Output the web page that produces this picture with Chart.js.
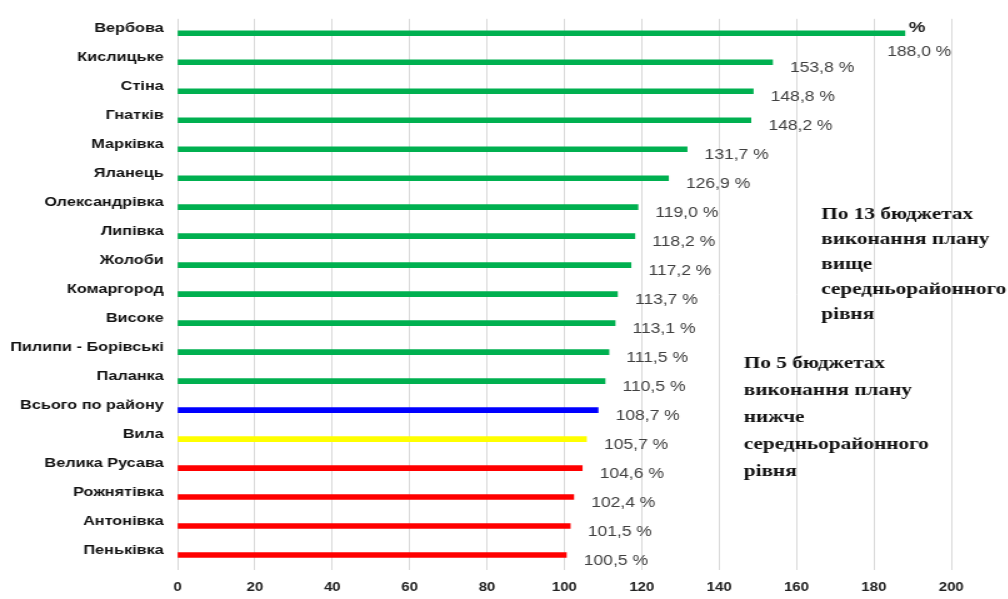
<!DOCTYPE html>
<html>
<head>
<meta charset="utf-8">
<script src="https://cdn.jsdelivr.net/npm/chart.js@4/dist/chart.umd.min.js"></script>
<style>
  html, body { margin: 0; padding: 0; background: #fff; overflow: hidden; }
  /* the source picture is stretched sideways, so draw narrower and stretch */
  #wrap { width: 806px; height: 599px; transform: scaleX(1.25); transform-origin: 0 0; }
</style>
</head>
<body>
<div id="wrap"><canvas id="myChart"></canvas></div>
<script>
const villages = [
  'Вербова', 'Кислицьке', 'Стіна', 'Гнатків', 'Марківка', 'Яланець',
  'Олександрівка', 'Липівка', 'Жолоби', 'Комаргород', 'Високе',
  'Пилипи - Борівські', 'Паланка', 'Всього по району', 'Вила',
  'Велика Русава', 'Рожнятівка', 'Антонівка', 'Пеньківка'
];
const planPercent = [
  188.0, 153.8, 148.8, 148.2, 131.7, 126.9, 119.0, 118.2, 117.2, 113.7,
  113.1, 111.5, 110.5, 108.7, 105.7, 104.6, 102.4, 101.5, 100.5
];
const barColors = [
  '#00b050', '#00b050', '#00b050', '#00b050', '#00b050', '#00b050', '#00b050',
  '#00b050', '#00b050', '#00b050', '#00b050', '#00b050', '#00b050',
  '#0000ff', '#ffff00', '#ff0000', '#ff0000', '#ff0000', '#ff0000'
];
const xTicks = [0, 20, 40, 60, 80, 100, 120, 140, 160, 180, 200];
const noteAbove = ['По 13 бюджетах', 'виконання плану', 'вище', 'середньорайонного', 'рівня'];
const noteBelow = ['По 5 бюджетах', 'виконання плану', 'нижче', 'середньорайонного', 'рівня'];

const fmt = v => v.toFixed(1).replace('.', ',') + ' %';

const labelsPlugin = {
  id: 'valueLabels',
  afterDatasetsDraw(chart) {
    const ctx = chart.ctx;
    const area = chart.chartArea;
    const meta = chart.getDatasetMeta(0);
    ctx.save();
    ctx.textBaseline = 'middle';
    ctx.font = '14px "Liberation Sans"';
    ctx.fillStyle = '#404040';
    meta.data.forEach((bar, i) => {
      const txt = fmt(planPercent[i]);
      const w = ctx.measureText(txt).width;
      let x = bar.x + 14, y = bar.y + 6;
      if (x + w > area.right) { x = area.right - w; y = bar.y + 19; }
      ctx.fillText(txt, x, y);
    });

    // unit mark
    ctx.font = 'bold 15px "Liberation Sans"';
    ctx.fillStyle = '#222';
    ctx.fillText('%', 727, 28);

    // notes
    ctx.font = 'bold 17px "Liberation Serif"';
    ctx.fillStyle = '#111';
    noteAbove.forEach((line, i) => ctx.fillText(line, 657, 215 + i * 25));
    noteBelow.forEach((line, i) => ctx.fillText(line, 595, 364 + i * 27));
    ctx.restore();
  }
};

new Chart(document.getElementById('myChart'), {
  type: 'bar',
  data: {
    labels: villages,
    datasets: [{
      data: planPercent,
      backgroundColor: barColors,
      barThickness: 5
    }]
  },
  options: {
    indexAxis: 'y',
    responsive: true,
    maintainAspectRatio: false,
    animation: false,
    layout: { padding: { top: 18, right: 45, bottom: 3.5, left: 0 } },
    plugins: { legend: { display: false }, tooltip: { enabled: false } },
    scales: {
      x: {
        min: 0,
        max: 200,
        afterBuildTicks: scale => { scale.ticks = xTicks.map(v => ({ value: v })); },
        afterFit: scale => { scale.height = 26; },
        grid: { color: '#d9d9d9', drawTicks: false },
        border: { display: false },
        ticks: {
          padding: 11,
          color: '#222',
          font: { family: 'Liberation Sans', size: 12, weight: 'bold' }
        }
      },
      y: {
        afterFit: scale => { scale.width = 142; },
        grid: { display: false, drawTicks: false },
        border: { display: false },
        ticks: {
          padding: 11,
          labelOffset: -5,
          color: '#111',
          font: { family: 'Liberation Sans', size: 13, weight: 'bold' }
        }
      }
    }
  },
  plugins: [labelsPlugin]
});
</script>
</body>
</html>
